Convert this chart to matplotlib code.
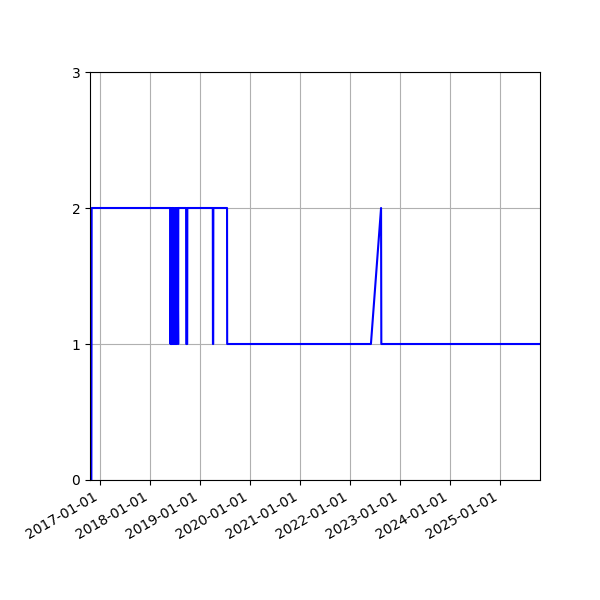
import pandas as pd
import matplotlib
matplotlib.use("Agg")
import matplotlib.pyplot as plt
import matplotlib.dates as mdates

dates = ['2016-10-30', '2016-11-01',
         '2018-05-30', '2018-05-31', '2018-06-03', '2018-06-05', '2018-06-10',
         '2018-06-11', '2018-06-14', '2018-06-15', '2018-06-19', '2018-06-24',
         '2018-06-29', '2018-07-04', '2018-07-10', '2018-07-14', '2018-07-20',
         '2018-07-26', '2018-07-27',
         '2018-09-22', '2018-09-23', '2018-09-30', '2018-10-01',
         '2019-04-05', '2019-04-06', '2019-04-08', '2019-04-09',
         '2019-07-18', '2019-07-19',
         '2022-06-03', '2022-08-16', '2022-08-18',
         '2025-10-20']
values = [0, 2,
          2, 1, 2, 1, 1,
          2, 2, 1, 2, 1,
          2, 1, 2, 1, 2,
          1, 2,
          2, 1, 1, 2,
          2, 1, 1, 2,
          2, 1,
          1, 2, 1,
          1]

x = pd.to_datetime(dates)

fig, ax = plt.subplots(figsize=(6, 6), dpi=100)
ax.plot(x, values, color='blue')
ax.set_xlim(pd.Timestamp('2016-10-20'), pd.Timestamp('2025-10-20'))
ax.set_ylim(0, 3)
ax.set_yticks([0, 1, 2, 3])
ax.xaxis.set_major_locator(mdates.YearLocator())
ax.xaxis.set_major_formatter(mdates.DateFormatter('%Y-%m-%d'))
ax.grid(True)
fig.autofmt_xdate()
fig.subplots_adjust(left=0.15)

plt.savefig('out.png')
